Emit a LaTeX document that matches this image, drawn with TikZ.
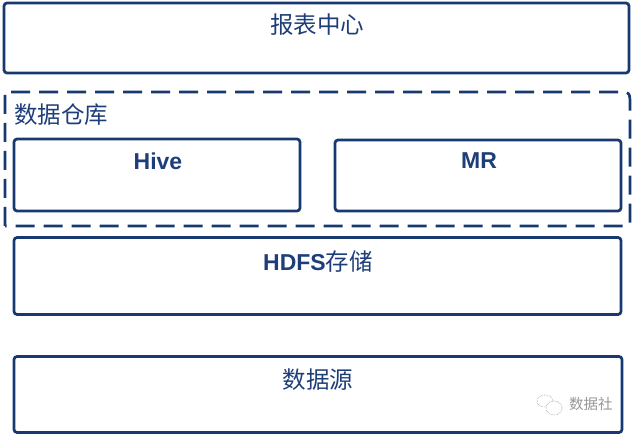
\documentclass[tikz,border=0pt]{standalone}
\usepackage{fontspec}
\setmainfont{Liberation Sans}
\newfontfamily\cjk{Noto Sans CJK SC}
\usetikzlibrary{shapes.geometric}
\definecolor{navy}{RGB}{24,56,112}
\definecolor{navytext}{RGB}{30,62,122}
\definecolor{wmgrey}{RGB}{150,150,150}
\tikzset{
  layerbox/.style={draw=navy, line width=2.7pt, rounded corners=3pt, minimum width=#1, inner sep=0pt},
  cjklabel/.style={text=navytext, font=\cjk\fontsize{23.5}{26}\selectfont, inner sep=0pt},
  latlabel/.style={text=navytext, font=\bfseries\fontsize{23}{26}\selectfont, inner sep=0pt},
  dashline/.style={draw=navy, line width=2.7pt, dash pattern=on 19pt off 9pt},
  wmtext/.style={text=wmgrey, font=\cjk\fontsize{14.5}{16}\selectfont, inner sep=0pt}
}
\begin{document}
\begin{tikzpicture}[x=1pt,y=-1pt]
\useasboundingbox (0,0) rectangle (634,435);
% report centre
\node[layerbox=625pt, minimum height=70pt] (report) at (316.5,38) {};
\node[cjklabel] (reportt) at (317,25) {报表中心};
% data warehouse dashed container
\coordinate (dwtl) at (5,92);
\coordinate (dwbl) at (5,226);
\draw[dashline] (dwbl) -- (dwtl) -- (617,92) .. controls (630,92) .. (630,105) -- (630,218) .. controls (630,226) .. (622,226) -- cycle;
\node[cjklabel, anchor=west] (dwt) at (14,115) {数据仓库};
\node[layerbox=286pt, minimum height=72pt] (hive) at (157,175) {};
\node[latlabel] (hivet) at (158,161) {Hive};
\node[layerbox=286pt, minimum height=71pt] (mr) at (478,175.5) {};
\node[latlabel] (mrt) at (479,161) {MR};
% HDFS
\node[layerbox=607pt, minimum height=77pt] (hdfs) at (317.5,276) {};
\node[text=navytext, inner sep=0pt] (hdfst) at (318,262) {{\bfseries\fontsize{23}{26}\selectfont HDFS}{\cjk\fontsize{23.5}{26}\selectfont 存储}};
% data source
\node[layerbox=608pt, minimum height=76pt] (src) at (318,394.5) {};
\node[cjklabel] (srct) at (318,380) {数据源};
% watermark
\draw[wmgrey, line width=0.6pt, densely dotted] (545,401) ellipse (8pt and 6pt);
\draw[wmgrey, line width=0.6pt, densely dotted, fill=white] (554,408) ellipse (8pt and 7pt);
\node[wmtext, anchor=west] (wm) at (569,404) {数据社};
\end{tikzpicture}
\end{document}
